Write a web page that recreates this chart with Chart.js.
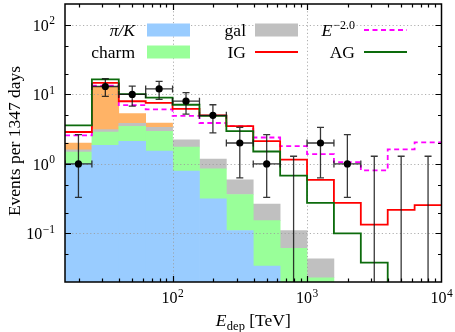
<!DOCTYPE html>
<html>
<head>
<meta charset="utf-8">
<script src="https://cdn.jsdelivr.net/npm/chart.js@4.4.1/dist/chart.umd.min.js"></script>
<style>
  html, body { margin: 0; padding: 0; background: #fff; }
  #wrap { width: 455px; height: 332px; }
</style>
</head>
<body>
<div id="wrap"><canvas id="eventsChart"></canvas></div>
<script>
// bin edges, log10(E_dep / TeV)
const binEdgesLog = [1.2, 1.4, 1.6, 1.8, 2.0, 2.2, 2.4, 2.6, 2.8, 3.0, 3.2, 3.4, 3.6, 3.8, 4.0];

// stacked background components (events per bin)
const piK   = [1.0, 1.85, 2.11, 1.53, 0.79, 0.315, 0.11, 0.034, 0, 0, 0, 0, 0, 0];
const charm = [0.48, 1.03, 1.37, 1.41, 0.96, 0.535, 0.253, 0.119, 0.061, 0.023, 0, 0, 0, 0];
const gal   = [0.12, 0.23, 0.36, 0.42, 0.48, 0.32, 0.227, 0.112, 0.049, 0.02, 0, 0, 0, 0];
const muons = [0.4, 9.6, 1.46, 0.52, 0, 0, 0, 0, 0, 0, 0, 0, 0, 0];

// model predictions (total)
const e20 = [2.58, 13.4, 7.0, 6.1, 4.9, 3.88, 3.5, 2.4, 1.8, 1.38, 1.06, 0.81, 1.62, 2.04];
const ig  = [2.88, 14.7, 7.97, 7.55, 6.2, 5.0, 3.5, 2.13, 1.15, 0.59, 0.275, 0.134, 0.218, 0.255];
const ag  = [3.59, 16.5, 10.1, 9.0, 7.1, 4.9, 2.97, 1.51, 0.68, 0.275, 0.1, 0.038, 0.001, 0.001];

// observed events with error interval
const observed = [1, 13, 10, 12, 8, 5, 2, 1, 0, 2, 1, 0, 0, 0];
const errLow   = [0.33, 9.4, 6.8, 8.5, 5.2, 2.8, 0.63, 0.33, 0, 0.63, 0.33, 0, 0, 0];
const errHigh  = [2.64, 16.8, 13.2, 15.4, 10.6, 7.1, 3.35, 2.64, 1.29, 3.35, 2.64, 1.29, 1.29, 1.29];

const xDecades = [100, 1000, 10000];
const yDecades = [0.1, 1, 10, 100];

const edges = binEdgesLog.map(e => Math.pow(10, e));
const centers = binEdgesLog.slice(0, -1).map((e, i) => Math.pow(10, (e + binEdgesLog[i + 1]) / 2));

// floating bars for the stack, bottom to top
const stackParts = [piK, charm, gal, muons];
const running = centers.map(() => 0);
const stackBars = stackParts.map(part => part.map((v, i) => {
  const lo = running[i];
  running[i] += v;
  if (!v) return { x: centers[i], y: null };
  return { x: centers[i], y: [lo > 0 ? lo : 0.001, running[i]] };
}));

const stepData = vals => edges.map((e, i) => ({ x: e, y: vals[Math.min(i, vals.length - 1)] }));

function font(size, italic) {
  return (italic ? 'italic ' : '') + size + "px 'Liberation Serif', 'DejaVu Serif', serif";
}
function drawRuns(ctx, runs, x, y, align) {
  let w = 0;
  runs.forEach(r => { ctx.font = r.font; r.w = ctx.measureText(r.t).width; w += r.w + (r.gap || 0); });
  let cx = align === 'center' ? x - w / 2 : align === 'right' ? x - w : x;
  ctx.textAlign = 'left';
  ctx.textBaseline = 'alphabetic';
  runs.forEach(r => {
    cx += r.gap || 0;
    ctx.font = r.font;
    ctx.fillText(r.t, cx, y + (r.dy || 0));
    cx += r.w;
  });
}
function powRuns(v) {
  const p = Math.round(Math.log10(v));
  return [{ t: '10', font: font(16) }, { t: p < 0 ? '\u2212' + (-p) : String(p), font: font(11.5), dy: -6.5, gap: 0.5 }];
}

const legendRuns = {
  'π/K': [{ t: 'π/K', font: font(17.5, true) }],
  'charm': [{ t: 'charm', font: font(17.5) }],
  'gal': [{ t: 'gal', font: font(17.5) }],
  'IG': [{ t: 'IG', font: font(17.5) }],
  'E-2.0': [{ t: 'E', font: font(17.5, true) }, { t: '\u22122.0', font: font(12), dy: -7, gap: 1 }],
  'AG': [{ t: 'AG', font: font(17.5) }]
};
// [label, text right edge, symbol left, symbol right, row centre]
const legendSlots = [
  ['π/K', 135, 147, 190, 30], ['gal', 246, 255, 298, 30], ['E-2.0', 355, 364, 407, 30],
  ['charm', 135, 147, 190, 52], ['IG', 246, 255, 298, 52], ['AG', 355, 364, 407, 52]
];

const decor = {
  id: 'decor',
  afterDatasetDraw(chart, args) {
    if (chart.data.datasets[args.index].gridAfter) {
      const { ctx, chartArea: a, scales: { x, y } } = chart;
      ctx.save();
      ctx.strokeStyle = '#9a9a9a';
      ctx.lineWidth = 0.8;
      ctx.setLineDash([1.2, 2.4]);
      ctx.beginPath();
      xDecades.forEach(v => { const px = Math.round(x.getPixelForValue(v)) + 0.5; if (px < a.right - 2) { ctx.moveTo(px, a.top); ctx.lineTo(px, a.bottom); } });
      yDecades.forEach(v => { const py = Math.round(y.getPixelForValue(v)) + 0.5; ctx.moveTo(a.left, py); ctx.lineTo(a.right, py); });
      ctx.stroke();
      ctx.restore();
    }
  },
  beforeDatasetDraw(chart, args) {
    if (args.index !== 0) return;
    const { ctx, chartArea: a, scales: { x, y } } = chart;
    ctx.save();
    ctx.beginPath();
    ctx.rect(a.left, a.top, a.right - a.left, a.bottom - a.top);
    ctx.clip();
    ctx.strokeStyle = 'rgba(20,20,20,0.85)';
    ctx.lineWidth = 1.3;
    ctx.beginPath();
    centers.forEach((c, i) => {
      const px = x.getPixelForValue(c);
      const top = y.getPixelForValue(errHigh[i]);
      const bot = errLow[i] > 0 ? y.getPixelForValue(errLow[i]) : a.bottom + 2;
      ctx.moveTo(px, top); ctx.lineTo(px, bot);
      ctx.moveTo(px - 3.5, top); ctx.lineTo(px + 3.5, top);
      if (errLow[i] > 0) { ctx.moveTo(px - 3.5, bot); ctx.lineTo(px + 3.5, bot); }
      if (observed[i] > 0) {
        const py = y.getPixelForValue(observed[i]);
        const l = x.getPixelForValue(edges[i]), r = x.getPixelForValue(edges[i + 1]);
        ctx.moveTo(l, py); ctx.lineTo(r, py);
        ctx.moveTo(l, py - 3.5); ctx.lineTo(l, py + 3.5);
        ctx.moveTo(r, py - 3.5); ctx.lineTo(r, py + 3.5);
      }
    });
    ctx.stroke();
    ctx.restore();
  },
  afterDraw(chart) {
    const { ctx, chartArea: a, scales: { x, y } } = chart;
    ctx.save();
    // frame + ticks on all four sides
    ctx.strokeStyle = '#000';
    ctx.lineWidth = 1.2;
    ctx.beginPath();
    const xt = [];
    [10, 100, 1000].forEach(d => { for (let k = 1; k < 10; k++) xt.push([d * k, k === 1]); });
    xt.forEach(([v, major]) => {
      if (v < x.min || v > x.max) return;
      const px = Math.round(x.getPixelForValue(v)) + 0.5, len = major ? 6 : 3.5;
      ctx.moveTo(px, a.bottom); ctx.lineTo(px, a.bottom - len);
      ctx.moveTo(px, a.top); ctx.lineTo(px, a.top + len);
    });
    const yt = [];
    [0.01, 0.1, 1, 10, 100].forEach(d => { [1, 2, 5].forEach(k => yt.push([d * k, k === 1])); });
    yt.forEach(([v, major]) => {
      if (v <= y.min || v >= y.max) return;
      const py = Math.round(y.getPixelForValue(v)) + 0.5, len = major ? 6 : 3.5;
      ctx.moveTo(a.left, py); ctx.lineTo(a.left + len, py);
      ctx.moveTo(a.right, py); ctx.lineTo(a.right - len, py);
    });
    ctx.stroke();
    ctx.lineWidth = 1.5;
    ctx.strokeRect(a.left, a.top, a.right - a.left, a.bottom - a.top);

    // tick labels
    ctx.fillStyle = '#000';
    xDecades.forEach(v => drawRuns(ctx, powRuns(v), x.getPixelForValue(v), 303, 'center'));
    yDecades.forEach(v => drawRuns(ctx, powRuns(v), 55, y.getPixelForValue(v) + 6, 'right'));

    // axis titles
    drawRuns(ctx, [
      { t: 'E', font: font(17.5, true) },
      { t: 'dep', font: font(12.5), dy: 3.5, gap: 0.5 },
      { t: ' [TeV]', font: font(17.5) }
    ], (a.left + a.right) / 2, 326, 'center');
    ctx.save();
    ctx.translate(20, 141);
    ctx.rotate(-Math.PI / 2);
    drawRuns(ctx, [{ t: 'Events per 1347 days', font: font(17.5) }], 0, 0, 'center');
    ctx.restore();

    // legend
    legendSlots.forEach(([label, tx, s0, s1, cy]) => {
      const ds = chart.data.datasets.find(d => d.label === label);
      ctx.fillStyle = '#000';
      drawRuns(ctx, legendRuns[label], tx, cy + 6, 'right');
      if (ds.type === 'bar') {
        ctx.fillStyle = ds.backgroundColor;
        ctx.fillRect(s0, cy - 6.5, s1 - s0, 13);
      } else {
        ctx.strokeStyle = ds.borderColor;
        ctx.lineWidth = ds.borderWidth;
        ctx.setLineDash(ds.borderDash || []);
        ctx.beginPath();
        ctx.moveTo(s0, cy); ctx.lineTo(s1, cy);
        ctx.stroke();
        ctx.setLineDash([]);
      }
    });
    ctx.restore();
  }
};

new Chart(document.getElementById('eventsChart'), {
  type: 'bar',
  data: {
    datasets: [
      {
        type: 'line', label: 'data', showLine: false,
        data: centers.map((c, i) => ({ x: c, y: observed[i] > 0 ? observed[i] : null })),
        pointRadius: 3.6, pointBackgroundColor: '#000', pointBorderWidth: 0
      },
      { type: 'line', label: 'AG', data: stepData(ag), stepped: true, borderColor: '#0c6b0c', borderWidth: 1.8, pointRadius: 0, fill: false },
      { type: 'line', label: 'IG', data: stepData(ig), stepped: true, borderColor: '#ff0000', borderWidth: 1.8, pointRadius: 0, fill: false },
      { type: 'line', label: 'E-2.0', data: stepData(e20), stepped: true, borderColor: '#ff00ff', borderWidth: 1.8, borderDash: [5, 3.5], pointRadius: 0, fill: false },
      { type: 'bar', label: 'π/K', data: stackBars[0], backgroundColor: '#99ccff', gridAfter: true },
      { type: 'bar', label: 'charm', data: stackBars[1], backgroundColor: '#99ff99' },
      { type: 'bar', label: 'gal', data: stackBars[2], backgroundColor: '#c0c0c0' },
      { type: 'bar', label: 'muons', data: stackBars[3], backgroundColor: '#ffb366' }
    ]
  },
  options: {
    responsive: true,
    maintainAspectRatio: false,
    animation: false,
    layout: { padding: { top: 4, right: 13.5, left: 0, bottom: 0 } },
    datasets: { bar: { grouped: false, barPercentage: 1, categoryPercentage: 1, borderWidth: 0 } },
    plugins: { legend: { display: false }, tooltip: { enabled: false } },
    scales: {
      x: {
        type: 'logarithmic', min: Math.pow(10, 1.2), max: 10000, offset: false,
        grid: { display: false }, border: { display: false }, ticks: { display: false },
        afterBuildTicks: s => { s.ticks = xDecades.map(v => ({ value: v })); },
        afterFit: s => { s.height = 50; }
      },
      y: {
        type: 'logarithmic', min: 0.02, max: 200,
        grid: { display: false }, border: { display: false }, ticks: { display: false },
        afterBuildTicks: s => { s.ticks = yDecades.map(v => ({ value: v })); },
        afterFit: s => { s.width = 65; }
      }
    }
  },
  plugins: [decor]
});
</script>
</body>
</html>
